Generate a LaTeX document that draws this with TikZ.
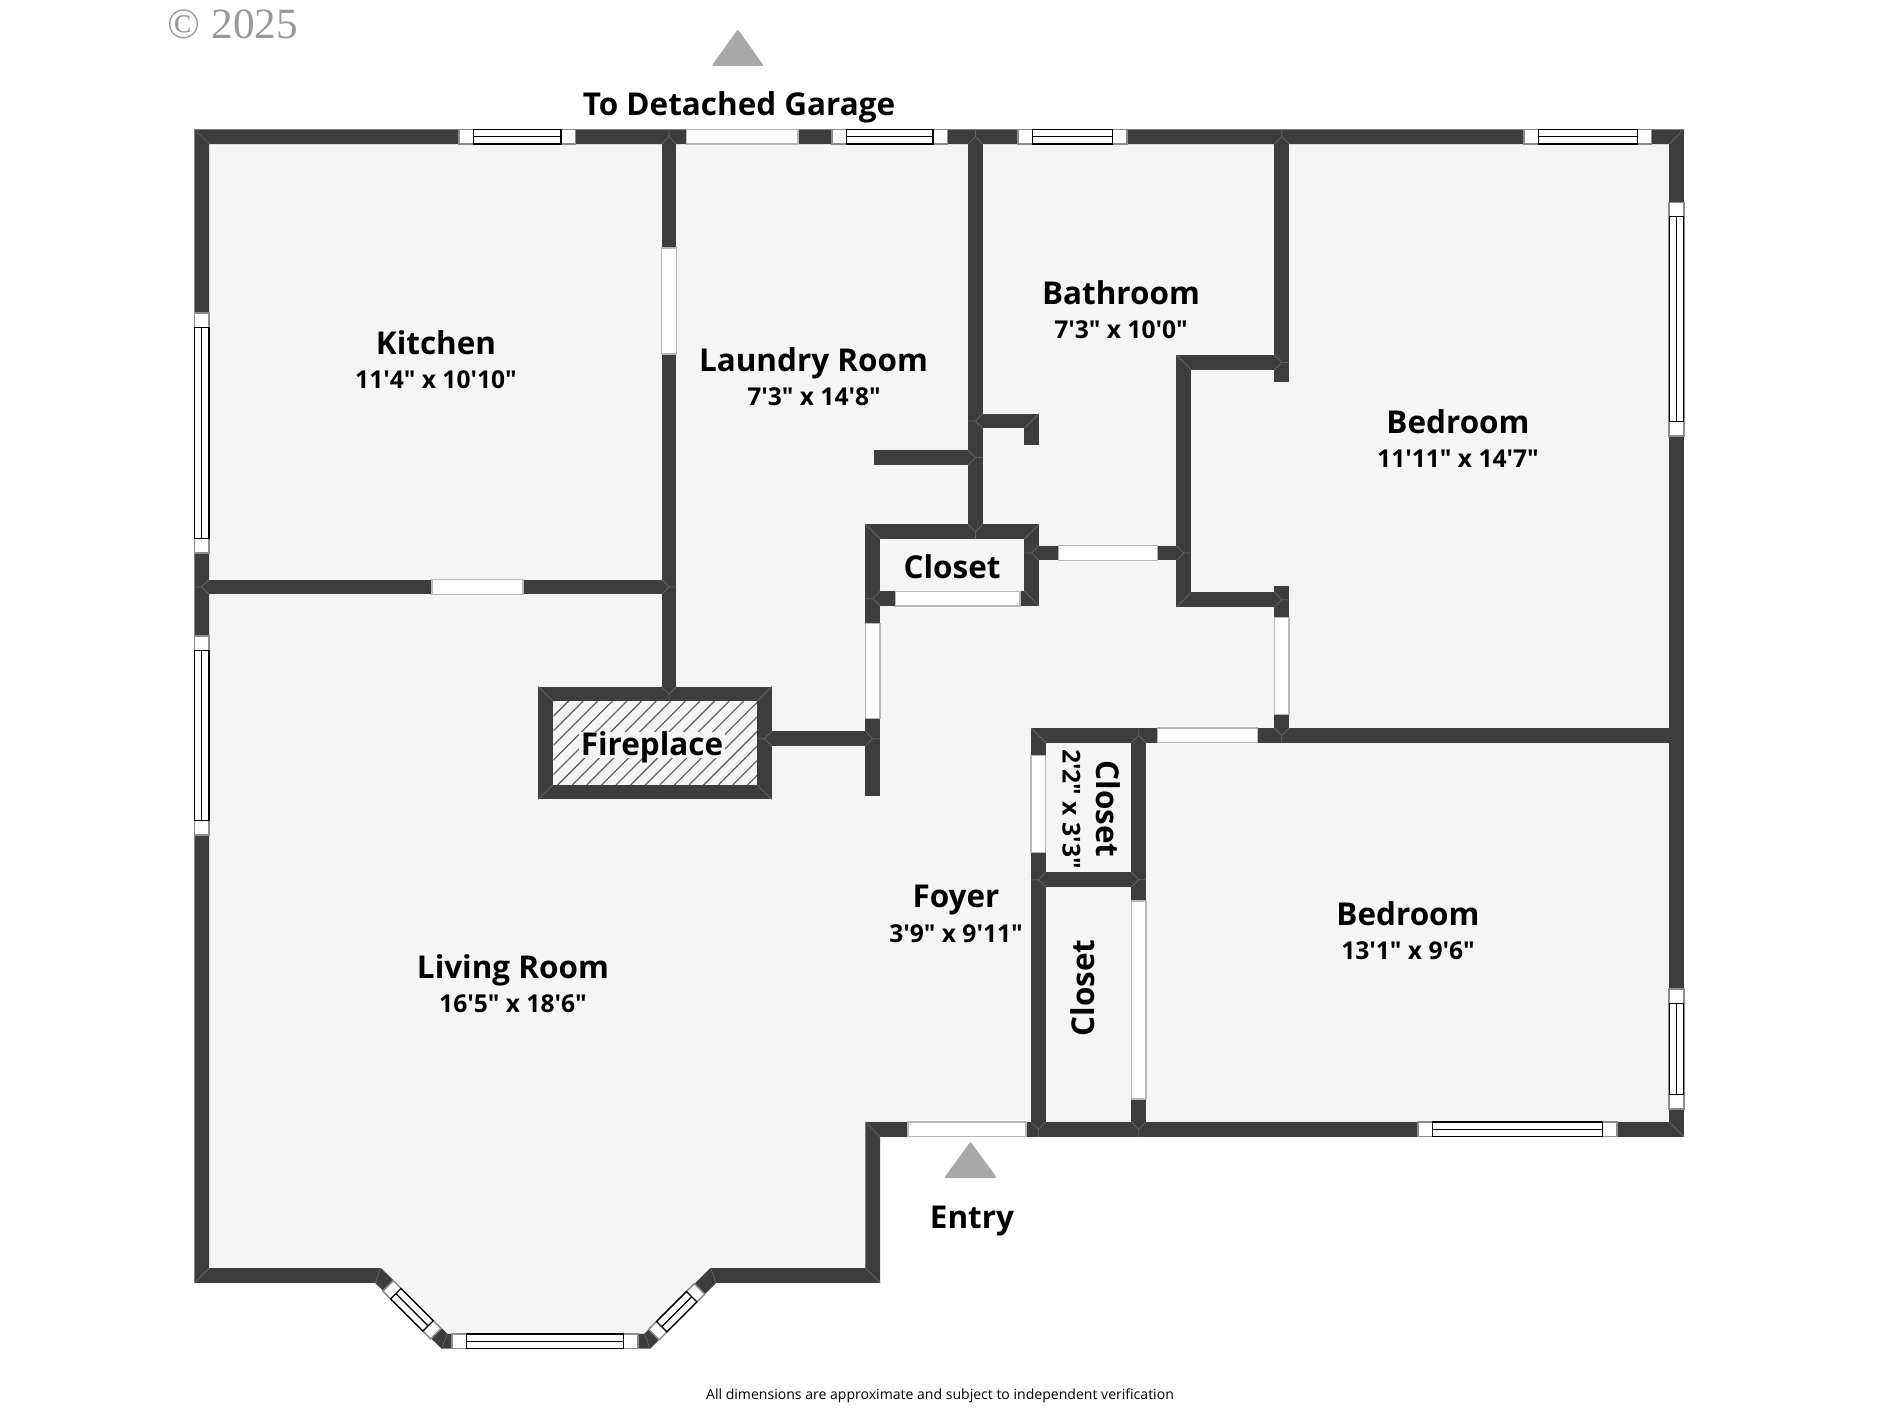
\documentclass[tikz,border=0pt]{standalone}
\usepackage{fontspec}
\newfontfamily\planfont{Open Sans}
\newfontfamily\yearfont{Liberation Serif}
\definecolor{wallgray}{HTML}{3D3D3D}
\definecolor{floorgray}{HTML}{F5F5F5}
\definecolor{arrowgray}{HTML}{A8A8A8}
\tikzset{
 wall/.style={line width=0.294cm, color=wallgray, line join=miter, miter limit=10},
 seam/.style={draw=black!60, line width=0.014cm},
 doorgap/.style={fill=white, draw=black!28, line width=0.03cm},
 winframe/.style={fill=white, draw=black!45, line width=0.03cm},
 winbar/.style={draw=black, line width=0.025cm},
 roomname/.style={inner sep=0pt, text height=12.8pt, text depth=0pt, font=\fontsize{17.9}{20}\selectfont\planfont\bfseries},
 roomsize/.style={inner sep=0pt, text height=10pt, text depth=0pt, font=\fontsize{14}{17}\selectfont\planfont\bfseries},
 marker/.style={fill=arrowgray, draw=arrowgray, line width=0.04cm, line join=round}
}
\newcommand{\casement}[5]{%
 \begin{scope}[shift={(#1,#2)},rotate=#3]
 \draw[winframe](0,0) rectangle (#4,14.7);
 \draw[winbar](#5,0) rectangle (#4-#5,14.7);
 \draw[winbar](#5,7.35)--(#4-#5,7.35);
 \end{scope}}
\newcommand{\wallmeet}[3]{\draw[seam,shift={(#1,#2)},rotate=#3](-7.35,7.35)--(0,0)--(7.35,7.35) (0,0)--(0,-7.35);}
\begin{document}
\begin{tikzpicture}[x=0.02cm, y=-0.02cm]
 \useasboundingbox (0,0) rectangle (1878,1409);
 % floor and outer walls
 \fill[floorgray](201.7,136.7)--(1676.5,136.7)--(1676.5,1129.4)--(872.7,1129.4)--(872.7,1275.4)--(713.3,1275.4)--(647.3,1341.2)--(444.4,1341.2)--(378,1275.4)--(201.7,1275.4)--cycle;
 \draw[wall](201.7,136.7)--(1676.5,136.7)--(1676.5,1129.4)--(872.7,1129.4)--(872.7,1275.4)--(713.3,1275.4)--(647.3,1341.2)--(444.4,1341.2)--(378,1275.4)--(201.7,1275.4)--cycle;
 % inner walls
 \draw[wall](669,136.7)--(669,694);
 \draw[wall](201.7,587)--(669,587);
 \draw[wall](975.4,136.7)--(975.4,531.7);
 \draw[wall](874.3,457.5)--(975.4,457.5);
 \draw[wall](975.4,421)--(1031.7,421)--(1031.7,444.7);
 \draw[wall](872.7,531.7)--(1031.7,531.7)--(1031.7,598.7)--(872.7,598.7)--cycle;
 \draw[wall](872.7,531.7)--(872.7,795.7);
 \draw[wall](1031.7,553)--(1183.8,553);
 \draw[wall](1281.8,136.7)--(1281.8,382);
 \draw[wall](1281.8,362.5)--(1183.8,362.5)--(1183.8,599.8)--(1281.8,599.8);
 \draw[wall](1281.8,586.3)--(1281.8,735.4);
 \draw[wall](1038.4,1129.4)--(1038.4,735.4)--(1676.5,735.4);
 \draw[wall](1138.8,735.4)--(1138.8,1129.4);
 \draw[wall](1038.4,879.7)--(1138.8,879.7);
 \draw[wall](764.4,738.7)--(872.7,738.7);
 % fireplace
 \fill[floorgray](545.6,694) rectangle (764.4,792);
 \begin{scope}
 \clip(553.7,701.3) rectangle (757,784.7);
 \foreach \s in {0,...,20}
 \draw[black!60, line width=0.025cm](470+14.6*\s,785)--++(84,-84);
 \end{scope}
 \draw[wall](545.6,694) rectangle (764.4,792);
 % joints between walls
 \foreach \a/\b/\d in {201.7/136.7/1, 1676.5/1129.4/1, 872.7/1129.4/1, 872.7/1275.4/1, 545.6/694/1, 764.4/792/1, 872.7/531.7/1, 1031.7/598.7/1, 1038.4/735.4/1, 1183.8/362.5/1, 1676.5/136.7/-1, 201.7/1275.4/-1, 764.4/694/-1, 545.6/792/-1, 1031.7/531.7/-1, 1183.8/599.8/-1, 1031.7/421/-1}
 \draw[seam](\a-7.35,\b-7.35*\d)--(\a+7.35,\b+7.35*\d);
 \foreach \a/\b/\c in {669/136.7/0, 975.4/136.7/0, 1281.8/136.7/0, 1138.8/735.4/0, 669/694/180, 975.4/531.7/180, 1281.8/735.4/180, 1038.4/1129.4/180, 1138.8/1129.4/180, 201.7/587/90, 975.4/421/90, 1031.7/553/90, 872.7/598.7/90, 764.4/738.7/90, 1038.4/879.7/90, 669/587/-90, 975.4/457.5/-90, 1183.8/553/-90, 1281.8/362.5/-90, 1281.8/599.8/-90, 872.7/738.7/-90, 1138.8/879.7/-90}
 \wallmeet{\a}{\b}{\c};
 \draw[seam](380.4,1268)--(375.4,1283) (447.3,1333.7)--(441.5,1348.7) (644.6,1333.7)--(650,1348.7) (710.7,1268)--(716,1282.7);
 % doors
 \foreach \a/\b/\c in {686.7/798/129.3, 432/523/579.7, 895.7/1020/591.3, 1058.3/1157.7/545.7, 1157.3/1257.3/728, 908/1026/1122}
 \draw[doorgap](\a,\c) rectangle (\b,\c+14.7);
 \foreach \a/\b/\c in {248/354/661.7, 623.3/718.7/865.3, 617.3/714.3/1274.4, 755.7/852.7/1031, 901/1099/1131.4}
 \draw[doorgap](\c,\a) rectangle (\c+14.7,\b);
 % windows
 \foreach \a/\b/\c in {459/116.5/129.3, 832/115.5/129.3, 1018/109/129.3, 1524/127.7/129.3, 1418/199/1122, 452/186/1333.9}
 \casement{\a}{\c}{0}{\b}{14.5};
 \foreach \a/\b/\c in {209.1/313/240, 209.1/636/199, 1683.8/202.3/233.7, 1683.8/989/120}
 \casement{\a}{\b}{-90}{\c}{14.5};
 \casement{393.3}{1280.7}{-45}{67.5}{11};
 \casement{648.7}{1329.3}{45}{64.5}{11};
 % entry marks
 \draw[marker](737.8,31)--(762,65)--(713.5,65)--cycle;
 \draw[marker](970.5,1143.3)--(995,1177)--(946,1177)--cycle;
 % labels
 \node[roomname](garage) at (739,104){To Detached Garage};
 \node[roomname](kitchen) at (436,343){Kitchen};
 \node[roomsize](kitchensize) at (436,379.5){11'4" x 10'10"};
 \node[roomname](laundry) at (813.5,360){Laundry Room};
 \node[roomsize](laundrysize) at (814,396.5){7'3" x 14'8"};
 \node[roomname](bath) at (1121,293){Bathroom};
 \node[roomsize](bathsize) at (1121,329.5){7'3" x 10'0"};
 \node[roomname](bedone) at (1458,422){Bedroom};
 \node[roomsize](bedonesize) at (1458,459){11'11" x 14'7"};
 \node[roomname](closetone) at (952,567){Closet};
 \node[roomname, fill=floorgray, inner sep=1pt](fireplace) at (652,744.5){Fireplace};
 \node[roomname, rotate=-90](closettwo) at (1108,809){Closet};
 \node[roomsize, rotate=-90](closettwosize) at (1071.5,809){2'2" x 3'3"};
 \node[roomname, rotate=90](closetthree) at (1083,988){Closet};
 \node[roomname](foyer) at (956,896.5){Foyer};
 \node[roomsize](foyersize) at (956,934){3'9" x 9'11"};
 \node[roomname](bedtwo) at (1408,914.5){Bedroom};
 \node[roomsize](bedtwosize) at (1408,951){13'1" x 9'6"};
 \node[roomname](living) at (513,967){Living Room};
 \node[roomsize](livingsize) at (513,1003.5){16'5" x 18'6"};
 \node[roomname](entry) at (972,1217){Entry};
 \node[inner sep=0pt, font=\fontsize{8}{10}\selectfont\planfont](note) at (940,1396){All dimensions are approximate and subject to independent verification};
 \node[inner sep=0pt, text=black!40, font=\fontsize{24.6}{26}\selectfont\yearfont](year) at (233,24){© 2025};
\end{tikzpicture}
\end{document}
